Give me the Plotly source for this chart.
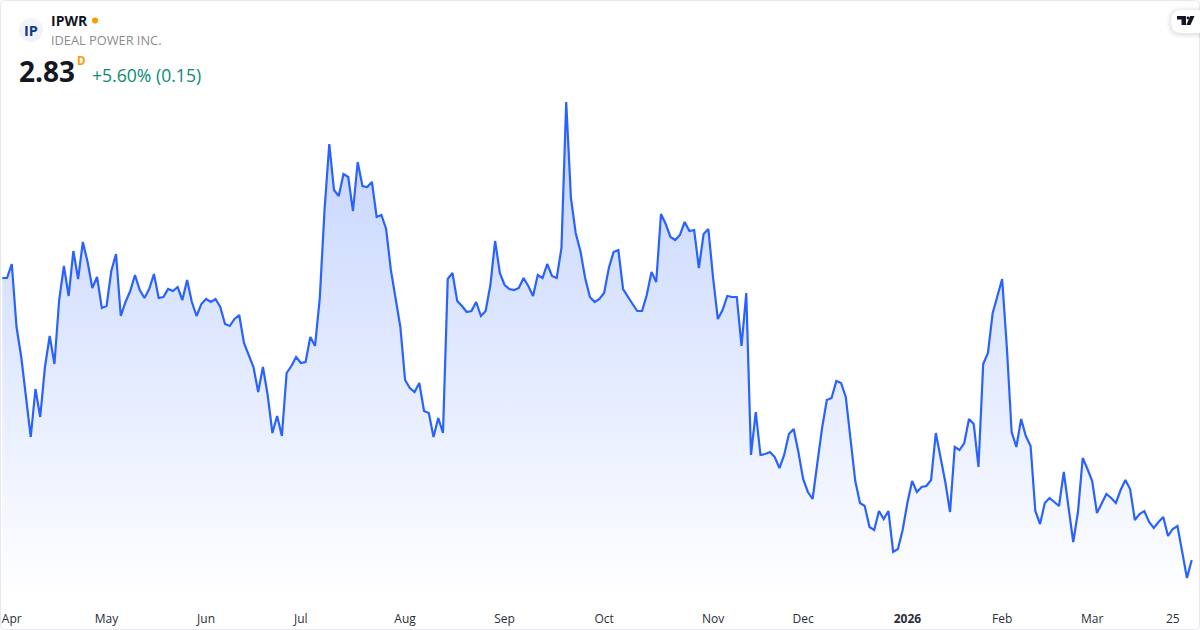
import plotly.graph_objects as go

close_apr_jul = [5.65,5.65,5.79,5.16,4.86,4.46,4.06,4.54,4.26,4.76,5.07,4.79,5.43,5.77,5.47,5.92,5.64,6.01,5.81,5.55,5.66,5.35,5.37,5.72,5.89,5.27,5.41,5.52,5.68,5.53,5.45,5.54,5.69,5.45,5.46,5.54,5.52,5.56,5.43,5.63,5.41,5.27,5.39,5.44,5.41,5.44,5.36,5.19,5.17,5.24,5.28,5.00,4.88,4.76,4.51,4.76,4.48,4.10,4.27,4.07,4.70,4.77,4.86,4.80]
close_jul_sep = [4.81,5.06,4.97,5.45,6.33,6.99,6.53,6.47,6.69,6.66,6.32,6.81,6.57,6.56,6.61,6.26,6.28,6.14,5.73,5.46,5.16,4.63,4.55,4.51,4.60,4.32,4.30,4.06,4.25,4.10,5.64,5.70,5.42,5.37,5.31,5.32,5.41,5.27,5.32,5.58,6.02,5.70,5.58,5.54,5.53,5.55,5.65,5.57,5.47,5.68,5.65,5.79,5.67,5.65,5.95,7.41]
close_sep_dec = [6.45,6.10,5.92,5.65,5.46,5.41,5.44,5.50,5.75,5.91,5.93,5.54,5.46,5.39,5.32,5.32,5.48,5.71,5.61,6.29,6.19,6.06,6.03,6.08,6.21,6.12,6.13,5.75,6.09,6.14,5.65,5.24,5.33,5.47,5.46,5.46,4.97,5.50,3.88,4.31,3.88,3.89,3.91,3.86,3.75,3.88,4.09,4.14,3.91]
close_dec_jan = [3.64,3.51,3.44,3.80,4.15,4.43,4.45,4.62,4.60,4.46,4.03,3.62,3.40,3.37,3.16,3.13,3.32,3.24,3.32,2.91,2.94,3.13,3.40,3.62,3.51,3.56,3.57,3.63,4.10,3.86,3.61,3.31,3.96,3.93,4.00,4.24,4.19,3.76]
close_feb_mar = [4.79,4.90,5.30,5.47,5.64,4.95,4.11,3.96,4.24,4.07,3.97,3.32,3.19,3.40,3.45,3.41,3.37,3.71,3.36,3.01,3.31,3.85,3.74,3.62,3.30,3.40,3.49,3.45,3.40,3.53,3.63,3.54,3.23,3.29,3.32,3.21,3.15,3.21,3.26,3.07,3.14,3.17,2.90,2.65,2.83]
close = close_apr_jul + close_jul_sep + close_sep_dec + close_dec_jan + close_feb_mar

tick_index = [2,22,43,63,85,106,127,150,169,191,211,230,247]
tick_labels = ["Apr","May","Jun","Jul","Aug","Sep","Oct","Nov","Dec","<b>2026</b>","Feb","Mar","25"]

W, H = 1200, 630
PLOT_BOTTOM = 600
FONT = "Open Sans"
first_px, last_px = 2.3, 1191.7
step = (last_px - first_px) / (len(close) - 1)
x_range = [-first_px / step, (W - first_px) / step]
y_range = [2.43, 8.43]


def px(x):
    return x / W


def py(y):
    return 1 - y / H


def rrect(x0, y0, x1, y1, r):
    return (f"M{px(x0+r)},{py(y0)} L{px(x1-r)},{py(y0)} Q{px(x1)},{py(y0)} {px(x1)},{py(y0+r)} "
            f"L{px(x1)},{py(y1-r)} Q{px(x1)},{py(y1)} {px(x1-r)},{py(y1)} "
            f"L{px(x0+r)},{py(y1)} Q{px(x0)},{py(y1)} {px(x0)},{py(y1-r)} "
            f"L{px(x0)},{py(y0+r)} Q{px(x0)},{py(y0)} {px(x0+r)},{py(y0)} Z")


def poly(points):
    return "M" + " L".join(f"{px(a)},{py(b)}" for a, b in points) + " Z"


fig = go.Figure(go.Scatter(
    x=list(range(len(close))),
    y=close,
    mode="lines",
    line=dict(color="#2962FF", width=2.2),
    fill="tozeroy",
    fillcolor="rgba(41,98,255,0.28)",
    fillgradient=dict(
        type="vertical",
        colorscale=[[0, "rgba(41,98,255,0)"], [1, "rgba(41,98,255,0.28)"]],
        start=2.43,
        stop=7.41,
    ),
    hoverinfo="skip",
    cliponaxis=True,
))

shapes = []
# frame
shapes.append(dict(type="path", xref="paper", yref="paper", path=rrect(0.5, 0.5, 1199.5, 629.5, 4),
                   line=dict(color="#E6E8EC", width=1), fillcolor="rgba(0,0,0,0)"))
# logo pill and soft shadow
for grow, alpha in ((5, 0.012), (4, 0.014), (3, 0.016), (2, 0.02), (1, 0.024)):
    shapes.append(dict(type="path", xref="paper", yref="paper",
                       path=rrect(1171 - grow, 10 - grow + 1, 1215, 33 + grow + 1, 11 + grow),
                       line=dict(width=0), fillcolor=f"rgba(0,0,0,{alpha})"))
shapes.append(dict(type="path", xref="paper", yref="paper", path=rrect(1171, 10, 1215, 33, 11),
                   line=dict(width=0), fillcolor="#FFFFFF"))
shapes.append(dict(type="path", xref="paper", yref="paper",
                   path=poly([(1177, 16), (1186, 16), (1186, 25), (1181.5, 25), (1181.5, 19.5), (1177, 19.5)]),
                   line=dict(width=0), fillcolor="#131722"))
shapes.append(dict(type="circle", xref="paper", yref="paper", x0=px(1186.6), x1=px(1189.4), y0=py(19.4), y1=py(16.6),
                   line=dict(width=0), fillcolor="#131722"))
shapes.append(dict(type="path", xref="paper", yref="paper",
                   path=poly([(1190.2, 16), (1194.5, 16), (1190.5, 25), (1186.3, 25)]),
                   line=dict(width=0), fillcolor="#131722"))
# ticker icon and status dot
shapes.append(dict(type="circle", xref="paper", yref="paper", x0=px(19), x1=px(43), y0=py(42), y1=py(18),
                   line=dict(width=0), fillcolor="#F0F3FA"))
shapes.append(dict(type="circle", xref="paper", yref="paper", x0=px(92), x1=px(98), y0=py(23.5), y1=py(17.5),
                   line=dict(width=0), fillcolor="#FF9800"))


def label(x, y, text, size, color, anchor="left", family=FONT):
    return dict(xref="paper", yref="paper", x=px(x), y=py(y), text=text, showarrow=False,
                xanchor=anchor, yanchor="middle", xshift=0,
                font=dict(family=family, size=size, color=color))


annotations = [
    label(31, 30, "<b>IP</b>", 14.5, "#0F3C82", "center"),
    label(49, 21, "<b>IPWR</b>", 14, "#131722"),
    label(49, 40.5, "IDEAL POWER INC.", 12.8, "#8C8C8C"),
    label(17, 70.5, "<b>2.83</b>", 28, "#131722"),
    label(75, 61, "<b>D</b>", 11.5, "#FF9800"),
    label(90, 74.5, "+5.60% (0.15)", 17.6, "#0A8B73"),
]

fig.update_layout(
    width=W, height=H,
    margin=dict(l=0, r=0, t=0, b=0, pad=0),
    paper_bgcolor="#FFFFFF",
    plot_bgcolor="rgba(0,0,0,0)",
    showlegend=False,
    shapes=shapes,
    annotations=annotations,
    font=dict(family=FONT),
    xaxis=dict(range=x_range, tickmode="array", tickvals=tick_index, ticktext=tick_labels,
               showgrid=False, zeroline=False, showline=False, ticks="outside", ticklen=8,
               tickcolor="rgba(0,0,0,0)", tickfont=dict(family=FONT, size=12, color="#2A2E39"),
               tickangle=0, automargin=False),
    yaxis=dict(range=y_range, domain=[(H - PLOT_BOTTOM) / H, 1], visible=False, automargin=False),
)

fig.write_html("out.html", config=dict(displayModeBar=False),
               post_script="document.body.style.margin='0';document.documentElement.style.overflow='hidden';")
